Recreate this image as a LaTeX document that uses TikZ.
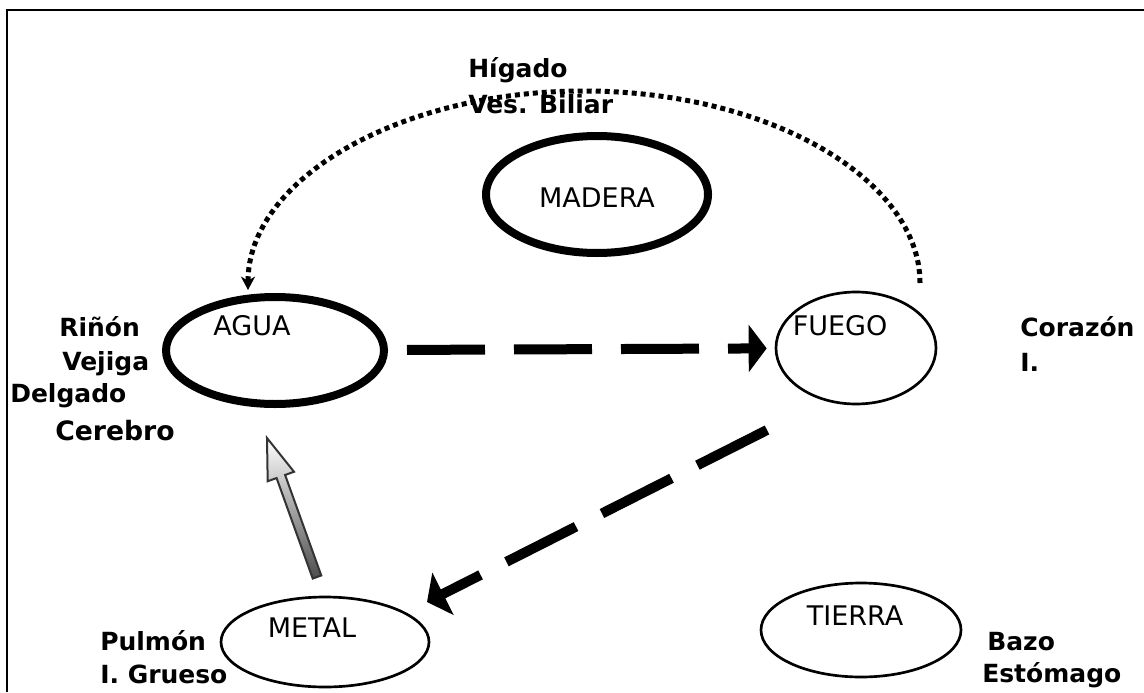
\documentclass[tikz,border=0pt]{standalone}
\usepackage{fontspec}
\setmainfont{DejaVu Sans}
\usetikzlibrary{arrows.meta,calc,shapes.geometric}
\begin{document}
\begin{tikzpicture}[x=0.75pt,y=-0.75pt,
  thickel/.style={ellipse, draw, line width=6pt, inner sep=0pt},
  thinel/.style={ellipse, draw, line width=2pt, inner sep=0pt},
  organ/.style={font=\bfseries\fontsize{18.75}{22}\selectfont, anchor=base west, inner sep=0pt},
  elem/.style={font=\fontsize{20.25}{24}\selectfont, anchor=base, inner sep=0pt},
  bigdash/.style={line width=7.5pt, dash pattern=on 58.5pt off 21.75pt,
    -{Triangle[length=13.5pt,width=35pt]}},
  dotarc/.style={line width=3.75pt, dash pattern=on 3.75pt off 3pt,
    -{Stealth[length=10pt,width=10.5pt,inset=3pt]}}]
\useasboundingbox (0,0) rectangle (1144,692);

% frame (top and left edges)
\draw[line width=1.5pt] (7,692) -- (7,10) -- (1144,10);

% the five elements
\node[thickel, minimum width=166.5pt, minimum height=87.75pt] (madera) at (597,194.5) {};
\node[thickel, minimum width=163.5pt, minimum height=80.25pt] (agua) at (275,350.5) {};
\node[thinel, minimum width=120pt, minimum height=84pt] (fuego) at (856,348) {};
\node[thinel, minimum width=156pt, minimum height=67.5pt] (metal) at (325,642) {};
\node[thinel, minimum width=150pt, minimum height=70.5pt] (tierra) at (861,630) {};

\node[elem] (tmadera) at (597,207) {MADERA};
\node[elem] (tagua) at (252,335) {AGUA};
\node[elem] (tfuego) at (840,335) {FUEGO};
\node[elem] (tmetal) at (312,637) {METAL};
\node[elem] (ttierra) at (855,625) {TIERRA};

% organ labels
\node[organ] (higado) at (468,77) {Hígado};
\node[organ] (vesbil) at (468,113) {Ves. Biliar};
\node[organ] (rinon) at (59,336) {Riñón};
\node[organ] (vejiga) at (62,370) {Vejiga};
\node[organ] (delgado) at (10,402) {Delgado};
\node[organ, font=\bfseries\fontsize{20}{24}\selectfont] (cerebro) at (55,440) {Cerebro};
\node[organ] (corazon) at (1020,336) {Corazón};
\node[organ] (cori) at (1020,371) {I.};
\node[organ] (pulmon) at (100,650) {Pulmón};
\node[organ] (grueso) at (100,683) {I. Grueso};
\node[organ] (bazo) at (987,650) {Bazo};
\node[organ] (estomago) at (982,682) {Estómago};

% dashed arrows
\draw[bigdash, shorten <=14.25pt, shorten >=6pt] (agua) -- (fuego);
\coordinate (fm1) at (767,430);
\coordinate (fm2) at (427,602);
\draw[bigdash] (fm1) -- (fm2);

% dotted arc from fuego round to agua
\coordinate (arcs) at (920,283);
\coordinate (arctop) at (584,91);
\coordinate (arce) at (248,290);
\draw[dotarc] (arcs) .. controls (920,180) and (770,91) .. (arctop)
  .. controls (398,91) and (248,180) .. (arce);

% shaded block arrow from metal up to agua
\coordinate (gt) at (317,577);
\coordinate (gh) at (267,438);
\coordinate (gn) at ($(gt)!0.723!(gh)$);
\path[draw=black!80, line width=1.5pt, line join=miter, top color=white, bottom color=black!70]
  ($(gt)!3.4pt!90:(gh)$) -- ($(gn)!3.4pt!90:(gh)$) -- ($(gn)!10.5pt!90:(gh)$)
  -- (gh) -- ($(gn)!10.5pt!-90:(gh)$) -- ($(gn)!3.4pt!-90:(gh)$)
  -- ($(gt)!3.4pt!-90:(gh)$) -- cycle;
\end{tikzpicture}
\end{document}
